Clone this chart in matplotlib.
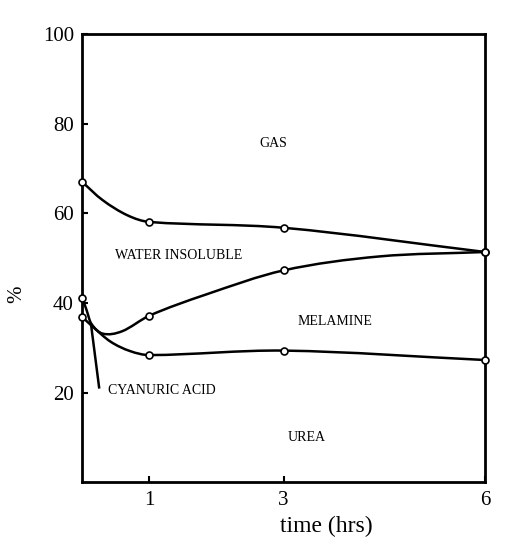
import numpy as np
import matplotlib
matplotlib.use("Agg")
import matplotlib.pyplot as plt
from matplotlib.path import Path
from matplotlib.patches import PathPatch

plt.rcParams['font.family'] = ['Liberation Serif', 'DejaVu Serif']

# boundary curves (time in hrs, cumulative %)
gas_t = [0, 0.3, 0.67, 1.0, 3.0, 6.0]
gas_y = [67, 63.0, 59.6, 58.1, 56.8, 51.4]
insol_t = [0, 0.06, 0.13, 0.3, 0.59, 1.0, 1.84, 3.0, 4.42, 6.0]
insol_y = [41.1, 38.6, 35.5, 33.2, 33.7, 37.2, 41.9, 47.3, 50.4, 51.4]
mel_t = [0, 0.15, 0.42, 0.71, 1.0, 3.0, 6.0]
mel_y = [36.9, 34.8, 31.4, 29.3, 28.4, 29.4, 27.3]

# measured points (open circles)
pt_t = [0, 1, 3, 6]
gas_pts = [67, 58.1, 56.8, 51.4]
insol_pts = [41.1, 37.2, 47.3, 51.4]
mel_pts = [36.9, 28.4, 29.4, 27.3]

x_ticks = [1, 3, 6]
y_ticks = [20, 40, 60, 80, 100]

regions = ["GAS", "WATER INSOLUBLE", "MELAMINE", "UREA"]
region_pos = [(2.85, 75.7), (1.44, 50.6), (3.77, 36.0), (3.34, 10.1)]


def smooth(xs, ys):
    # cubic hermite through the read points, drawn as bezier segments
    x = np.asarray(xs, float)
    y = np.asarray(ys, float)
    n = len(x)
    m = np.zeros(n)
    m[0] = (y[1] - y[0]) / (x[1] - x[0])
    m[-1] = (y[-1] - y[-2]) / (x[-1] - x[-2])
    for i in range(1, n - 1):
        m[i] = (y[i + 1] - y[i - 1]) / (x[i + 1] - x[i - 1])
    verts = [(x[0], y[0])]
    codes = [Path.MOVETO]
    for i in range(n - 1):
        h = (x[i + 1] - x[i]) / 3
        verts += [(x[i] + h, y[i] + m[i] * h),
                  (x[i + 1] - h, y[i + 1] - m[i + 1] * h),
                  (x[i + 1], y[i + 1])]
        codes += [Path.CURVE4] * 3
    return Path(verts, codes)


fig = plt.figure(figsize=(5.21, 5.42), dpi=100)
ax = fig.add_axes([0.158, 0.11, 0.773, 0.827])

for t, y in [(gas_t, gas_y), (insol_t, insol_y), (mel_t, mel_y)]:
    ax.add_patch(PathPatch(smooth(t, y), fill=False, lw=1.8, ec='black'))

for y in [gas_pts, insol_pts, mel_pts]:
    ax.plot(pt_t, y, 'o', mfc='white', mec='black', ms=5, mew=1.2,
            zorder=5, clip_on=False)

for name, (x, y) in zip(regions, region_pos):
    ax.text(x, y, name, ha='center', va='center', fontsize=10)

ax.text(0.39, 20.6, "CYANURIC ACID", ha='left', va='center', fontsize=10)
ax.plot([0.25, 0.13], [21.2, 35.2], color='black', lw=1.8)

ax.set_xlim(0, 6)
ax.set_ylim(0, 100)
ax.set_xticks(x_ticks)
ax.set_yticks(y_ticks)
ax.tick_params(direction='in', length=4, width=1.5, labelsize=15, pad=6)
for s in ax.spines.values():
    s.set_linewidth(2)

ax.set_xlabel("time (hrs)", fontsize=17)
ax.xaxis.set_label_coords(0.607, -0.075)
ax.set_ylabel("%", fontsize=15)
ax.yaxis.set_label_coords(-0.14, 0.42)

fig.savefig("out.png", dpi=100)
